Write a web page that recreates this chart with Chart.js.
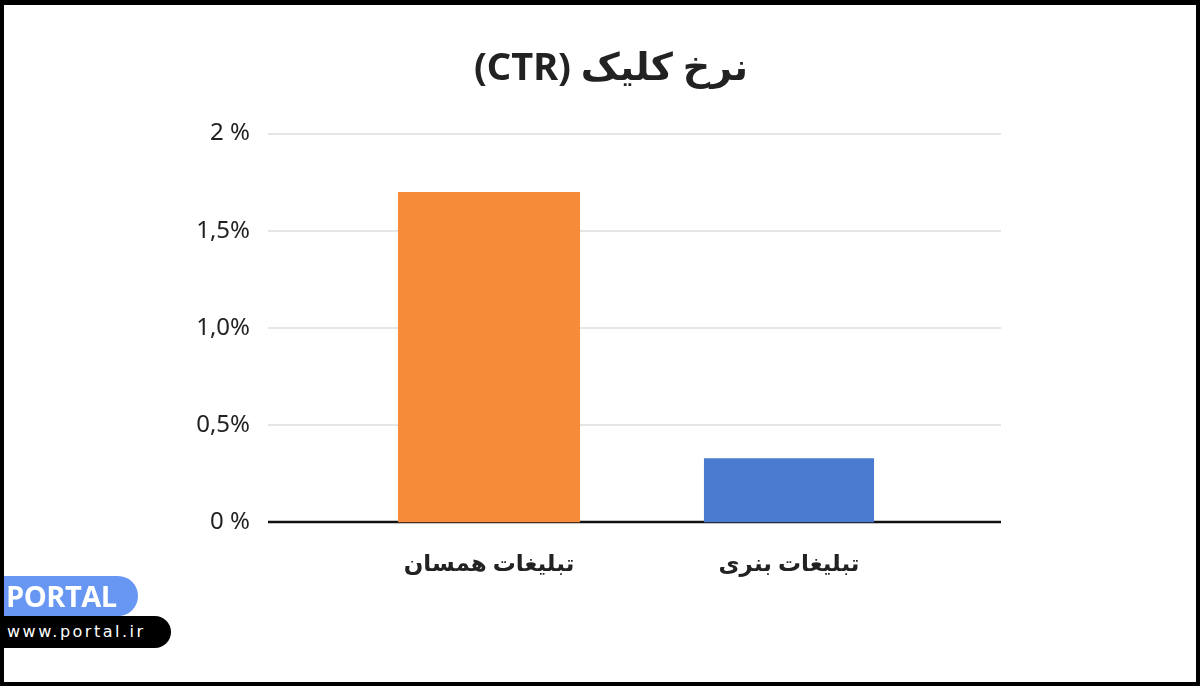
<!DOCTYPE html>
<html>
<head>
<meta charset="utf-8">
<script src="https://cdn.jsdelivr.net/npm/chart.js@4"></script>
<style>
    html, body { margin: 0; padding: 0; background: #000; }
    body { width: 1200px; height: 686px; position: relative; overflow: hidden; }
    #frame { position: absolute; left: 4px; top: 5px; width: 1192px; height: 677px; background: #fff; }
    #brand { position: absolute; left: 4px; top: 576px; width: 134px; height: 40px; background: #6797f2;
        border-radius: 0 20px 20px 0; color: #fff; font: bold 29px "Open Sans", sans-serif; line-height: 40px; padding-left: 2px; box-sizing: border-box; letter-spacing: -0.5px; }
    #site { position: absolute; left: 4px; top: 616px; width: 167px; height: 32px; background: #000;
        border-radius: 0 16px 16px 0; color: #fff; font: 16px "DejaVu Sans", sans-serif; line-height: 32px; padding-left: 3px; letter-spacing: 2.5px; box-sizing: border-box; }
</style>
</head>
<body>
<div id="frame"><canvas id="ctr"></canvas></div>
<div id="brand">PORTAL</div>
<div id="site">www.portal.ir</div>
<script>
// RLE ... PDF keeps the title in right-to-left order
const titleText = "\u202Bنرخ کلیک (CTR)\u202C";
const categories = ["تبلیغات همسان", "تبلیغات بنری"];
const nativeAds = [1.7, null];
const bannerAds = [null, 0.33];
const yTicks = { 0: "0 %", 0.5: "0,5%", 1: "1,0%", 1.5: "1,5%", 2: "2 %" };

const font = "'Noto Sans', 'DejaVu Sans', sans-serif";

// grid and base line drawn wider than the category axis, like the original
const wideGrid = {
    id: "wideGrid",
    beforeDatasetsDraw(chart) {
        const ctx = chart.ctx;
        const y = chart.scales.y;
        const left = chart.chartArea.left - 71;
        const right = chart.chartArea.right + 62;
        ctx.save();
        for (let t of y.ticks) {
            const py = Math.round(y.getPixelForValue(t.value));
            ctx.beginPath();
            ctx.lineWidth = t.value === 0 ? 2.5 : 1.5;
            ctx.strokeStyle = t.value === 0 ? "#111" : "#dedede";
            ctx.moveTo(left, py);
            ctx.lineTo(right, py);
            ctx.stroke();
        }
        ctx.restore();
    }
};

const ctx = document.getElementById("ctr");
ctx.width = 1192;
ctx.height = 677;

new Chart(ctx, {
    type: "bar",
    data: {
        labels: categories,
        datasets: [
            { data: nativeAds, backgroundColor: "#f68b3a", barPercentage: 0.607, categoryPercentage: 1, grouped: false },
            { data: bannerAds, backgroundColor: "#4a7bd0", barPercentage: 0.567, categoryPercentage: 1, grouped: false }
        ]
    },
    plugins: [wideGrid],
    options: {
        responsive: false,
        animation: false,
        layout: { padding: { left: 22, right: 0, top: 0, bottom: 76 } },
        plugins: {
            legend: { display: false },
            tooltip: { enabled: false },
            title: {
                display: true,
                text: titleText,
                color: "#222",
                font: { family: font, size: 38, weight: "bold" },
                padding: { top: 41, bottom: 42 }
            }
        },
        scales: {
            x: {
                grid: { display: false, drawTicks: false },
                border: { display: false },
                ticks: { color: "#222", font: { family: font, size: 23, weight: "bold" }, padding: 28 }
            },
            y: {
                min: 0,
                max: 2,
                grid: { display: false, drawTicks: false },
                border: { display: false },
                ticks: {
                    stepSize: 0.5,
                    color: "#222",
                    font: { family: font, size: 24 },
                    padding: 89,
                    callback: (v) => yTicks[v]
                },
                afterFit: (s) => { s.width = 313; }
            },
            // empty right-hand axis, only to keep space on the right
            yRight: {
                position: "right",
                grid: { display: false, drawTicks: false },
                border: { display: false },
                ticks: { display: false },
                afterFit: (s) => { s.width = 257; }
            }
        }
    }
});
</script>
</body>
</html>
